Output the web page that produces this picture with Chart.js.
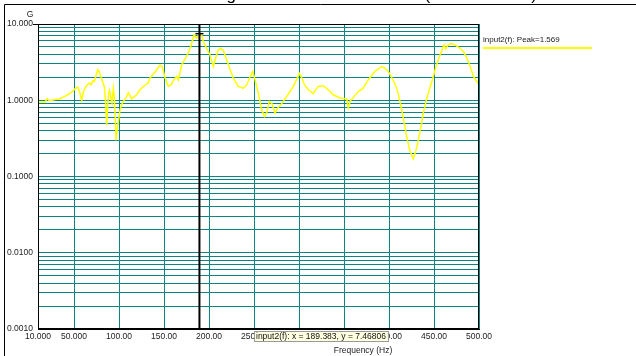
<!DOCTYPE html>
<html>
<head>
<meta charset="utf-8">
<script src="https://cdn.jsdelivr.net/npm/chart.js@4/dist/chart.umd.min.js"></script>
<style>
  html, body { margin: 0; padding: 0; background: #fff; }
  canvas { display: block; }
</style>
</head>
<body>
<canvas id="chart" width="636" height="356"></canvas>
<script>
// Frequency response of input2(f): frequency in Hz, gain G (log scale)
const freqHz = [
  10, 14, 18, 20, 22, 24.4, 29, 33.7, 38, 43, 48, 52, 54.4, 56.5, 58.5, 60.5, 63.3, 65, 67, 69,
  71, 72.6, 74.5, 76.3, 78, 80, 83.7, 85, 86.3, 87.3, 88.5, 89.5, 90.8, 92.2, 93.7, 94.8, 95.8, 96.7, 97.8, 99.6,
  101, 102.2, 104.5, 107, 110.4, 114, 116.5, 119.6, 123.3, 128, 132.6, 134.4, 140, 145.6, 148, 151, 154.8, 158, 161, 164,
  166, 169.7, 173, 177, 180, 183.3, 186.3, 189.383, 191.9, 193.7, 197.4, 201, 204.8, 207.5, 210, 213, 216, 219.6, 223, 227,
  232.6, 238.1, 242, 245.5, 248.5, 251, 254.8, 258.5, 261.5, 264, 267, 270, 273.3, 276, 279, 282.6, 288, 293.7, 297, 300.4,
  303, 306, 310.4, 315.9, 318, 321.4, 327, 332.6, 338, 345.6, 353, 354.8, 357, 362, 365.9, 371.4, 377, 384.4, 391.9, 395,
  399.2, 404, 408.6, 411.5, 414.1, 417, 419.6, 423, 427, 430, 432.6, 435.5, 438.1, 441, 443.7, 446.5, 449.2, 452, 454.8, 458,
  461.1, 463, 465, 467.8, 471, 475, 479, 482.6, 485.5, 488.1, 491, 493.7, 497, 500
];
const gainG = [
  0.95, 0.95, 0.94, 1.05, 1.0, 0.99, 1.02, 1.04, 1.1, 1.18, 1.3, 1.44, 1.49, 1.25, 1.0, 1.3, 1.52, 1.6, 1.68, 1.6,
  1.8, 1.76, 2.1, 2.51, 2.4, 2.0, 1.52, 1.0, 0.47, 0.8, 1.24, 1.35, 1.1, 0.92, 1.44, 1.1, 0.6, 0.3, 0.4, 0.56,
  0.72, 0.83, 0.95, 1.04, 1.26, 1.04, 1.1, 1.18, 1.37, 1.55, 1.7, 1.95, 2.35, 2.9, 2.75, 2.0, 1.52, 1.6, 1.85, 2.05,
  1.85, 2.92, 3.4, 4.2, 5.2, 7.2, 6.5, 7.46806, 7.1, 5.9, 4.8, 3.95, 2.77, 3.6, 4.5, 4.8, 4.5, 3.39, 2.6, 1.95,
  1.52, 1.44, 1.6, 2.0, 2.39, 1.9, 1.24, 0.75, 0.61, 0.68, 0.965, 0.9, 0.68, 0.78, 0.85, 0.965, 1.2, 1.52, 1.85, 2.25,
  2.0, 1.6, 1.37, 1.22, 1.35, 1.52, 1.55, 1.37, 1.18, 1.07, 1.04, 0.79, 0.98, 1.15, 1.3, 1.44, 1.86, 2.39, 2.77, 2.65,
  2.39, 1.9, 1.44, 1.05, 0.75, 0.5, 0.336, 0.22, 0.17, 0.22, 0.3, 0.45, 0.68, 0.95, 1.24, 1.6, 2.05, 2.7, 3.39, 4.3,
  5.33, 4.7, 5.2, 5.5, 5.45, 5.18, 4.8, 4.36, 3.8, 3.22, 2.6, 2.05, 1.8, 1.6
];

// Axis ticks
const xTickValues = [10, 50, 100, 150, 200, 250, 300, 350, 400, 450, 500];
const xTickLabels = ['10.000', '50.000', '100.00', '150.00', '200.00', '250.00', '300.00', '350.00', '400.00', '450.00', '500.00'];
const yDecades = [0.001, 0.01, 0.1, 1, 10];
const yTickLabels = ['0.0010', '0.0100', '0.1000', '1.0000', '10.000'];

// Cursor readout and legend text
const cursorFreq = 189.383;
const cursorGain = 7.46806;
const seriesName = 'input2(f)';
const peakValue = '1.569';

const TEAL = '#0b8584';
const YELLOW = '#ffff00';
const FONT = '"Liberation Sans", Arial, sans-serif';

// minor + major log grid values
const yGridValues = [];
for (let k = 0; k < yDecades.length - 1; k++) {
  for (let m = 1; m <= 9; m++) yGridValues.push(+(yDecades[k] * m).toPrecision(3));
}
yGridValues.push(yDecades[yDecades.length - 1]);

const points = freqHz.map((f, i) => ({ x: f, y: gainG[i] }));

const decorations = {
  id: 'decorations',
  afterDraw(chart) {
    const ctx = chart.ctx;
    const a = chart.chartArea;
    const xs = chart.scales.x, ys = chart.scales.y;
    ctx.save();

    // outer frame
    ctx.strokeStyle = '#000';
    ctx.lineWidth = 1;
    ctx.beginPath();
    ctx.moveTo(4.5, 356);
    ctx.lineTo(4.5, 4.5);
    ctx.lineTo(636, 4.5);
    ctx.stroke();

    // title (runs off the top edge)
    ctx.fillStyle = '#000';
    ctx.font = '17px ' + FONT;
    ctx.textAlign = 'left';
    ctx.textBaseline = 'alphabetic';
    ctx.fillText('Magnitude Transfer Function (Channel 2 / 1)', 203, -0.5);

    // plot frame
    ctx.strokeStyle = '#000';
    ctx.lineWidth = 1;
    ctx.strokeRect(Math.round(a.left) + 0.5, Math.round(a.top) + 0.5,
                   Math.round(a.right - a.left) - 1, Math.round(a.bottom - a.top) - 1);
    ctx.beginPath();
    ctx.moveTo(33, Math.round(a.top) + 0.5);
    ctx.lineTo(a.left, Math.round(a.top) + 0.5);
    ctx.stroke();

    // cursor line and marker
    const cx = xs.getPixelForValue(cursorFreq);
    const cy = ys.getPixelForValue(cursorGain);
    ctx.lineWidth = 2;
    ctx.beginPath();
    ctx.moveTo(cx, a.top);
    ctx.lineTo(cx, a.bottom);
    ctx.stroke();
    ctx.lineWidth = 1.5;
    ctx.beginPath();
    ctx.moveTo(cx - 4, cy);
    ctx.lineTo(cx + 4, cy);
    ctx.stroke();

    // axis titles
    ctx.fillStyle = '#222';
    ctx.font = '8.5px ' + FONT;
    ctx.textAlign = 'center';
    ctx.textBaseline = 'middle';
    ctx.fillText('G', 30, 15);
    ctx.fillText('Frequency (Hz)', 363, 351);

    // legend
    ctx.textAlign = 'left';
    ctx.font = '8px ' + FONT;
    ctx.fillText(seriesName + ': Peak=' + peakValue, 483, 40);
    ctx.strokeStyle = YELLOW;
    ctx.lineWidth = 2;
    ctx.beginPath();
    ctx.moveTo(483, 48);
    ctx.lineTo(592, 48);
    ctx.stroke();

    // cursor readout box
    ctx.font = '8.5px ' + FONT;
    const txt = seriesName + ': x = ' + cursorFreq.toFixed(3) + ', y = ' + cursorGain.toFixed(5);
    const w = ctx.measureText(txt).width + 4;
    ctx.fillStyle = '#ffffe1';
    ctx.fillRect(254, 331, w, 11);
    ctx.strokeStyle = '#9a9a9a';
    ctx.lineWidth = 1;
    ctx.strokeRect(254.5, 331.5, w, 10);
    ctx.fillStyle = '#111';
    ctx.fillText(txt, 256, 337);

    ctx.restore();
  }
};

new Chart(document.getElementById('chart'), {
  type: 'line',
  data: {
    datasets: [{
      label: seriesName,
      data: points,
      borderColor: YELLOW,
      borderWidth: 1.5,
      pointRadius: 0,
      tension: 0,
      fill: false
    }]
  },
  options: {
    responsive: false,
    animation: false,
    parsing: true,
    layout: { padding: { left: 0, top: 24, right: 157, bottom: 0 } },
    plugins: { legend: { display: false }, tooltip: { enabled: false } },
    scales: {
      x: {
        type: 'linear',
        min: 10,
        max: 500,
        afterBuildTicks: s => { s.ticks = xTickValues.map(v => ({ value: v })); },
        afterFit: s => { s.height = 27; },
        grid: { color: TEAL, lineWidth: 1, drawTicks: false },
        border: { display: true, color: '#000', width: 1 },
        ticks: {
          padding: 3,
          autoSkip: false,
          maxRotation: 0,
          color: '#222',
          font: { family: FONT, size: 8.5 },
          callback: (v) => {
            const i = xTickValues.indexOf(v);
            return i >= 0 ? xTickLabels[i] : '';
          }
        }
      },
      y: {
        type: 'logarithmic',
        min: 0.001,
        max: 10,
        afterBuildTicks: s => { s.ticks = yGridValues.map(v => ({ value: v })); },
        afterFit: s => { s.width = 38; },
        grid: { color: TEAL, lineWidth: 1, drawTicks: false },
        border: { display: true, color: '#000', width: 1 },
        ticks: {
          padding: 5,
          autoSkip: false,
          color: '#222',
          font: { family: FONT, size: 8.5 },
          callback: (v) => {
            const i = yDecades.findIndex(d => Math.abs(d - v) / d < 1e-6);
            return i >= 0 ? yTickLabels[i] : '';
          }
        }
      }
    }
  },
  plugins: [decorations]
});
</script>
</body>
</html>
